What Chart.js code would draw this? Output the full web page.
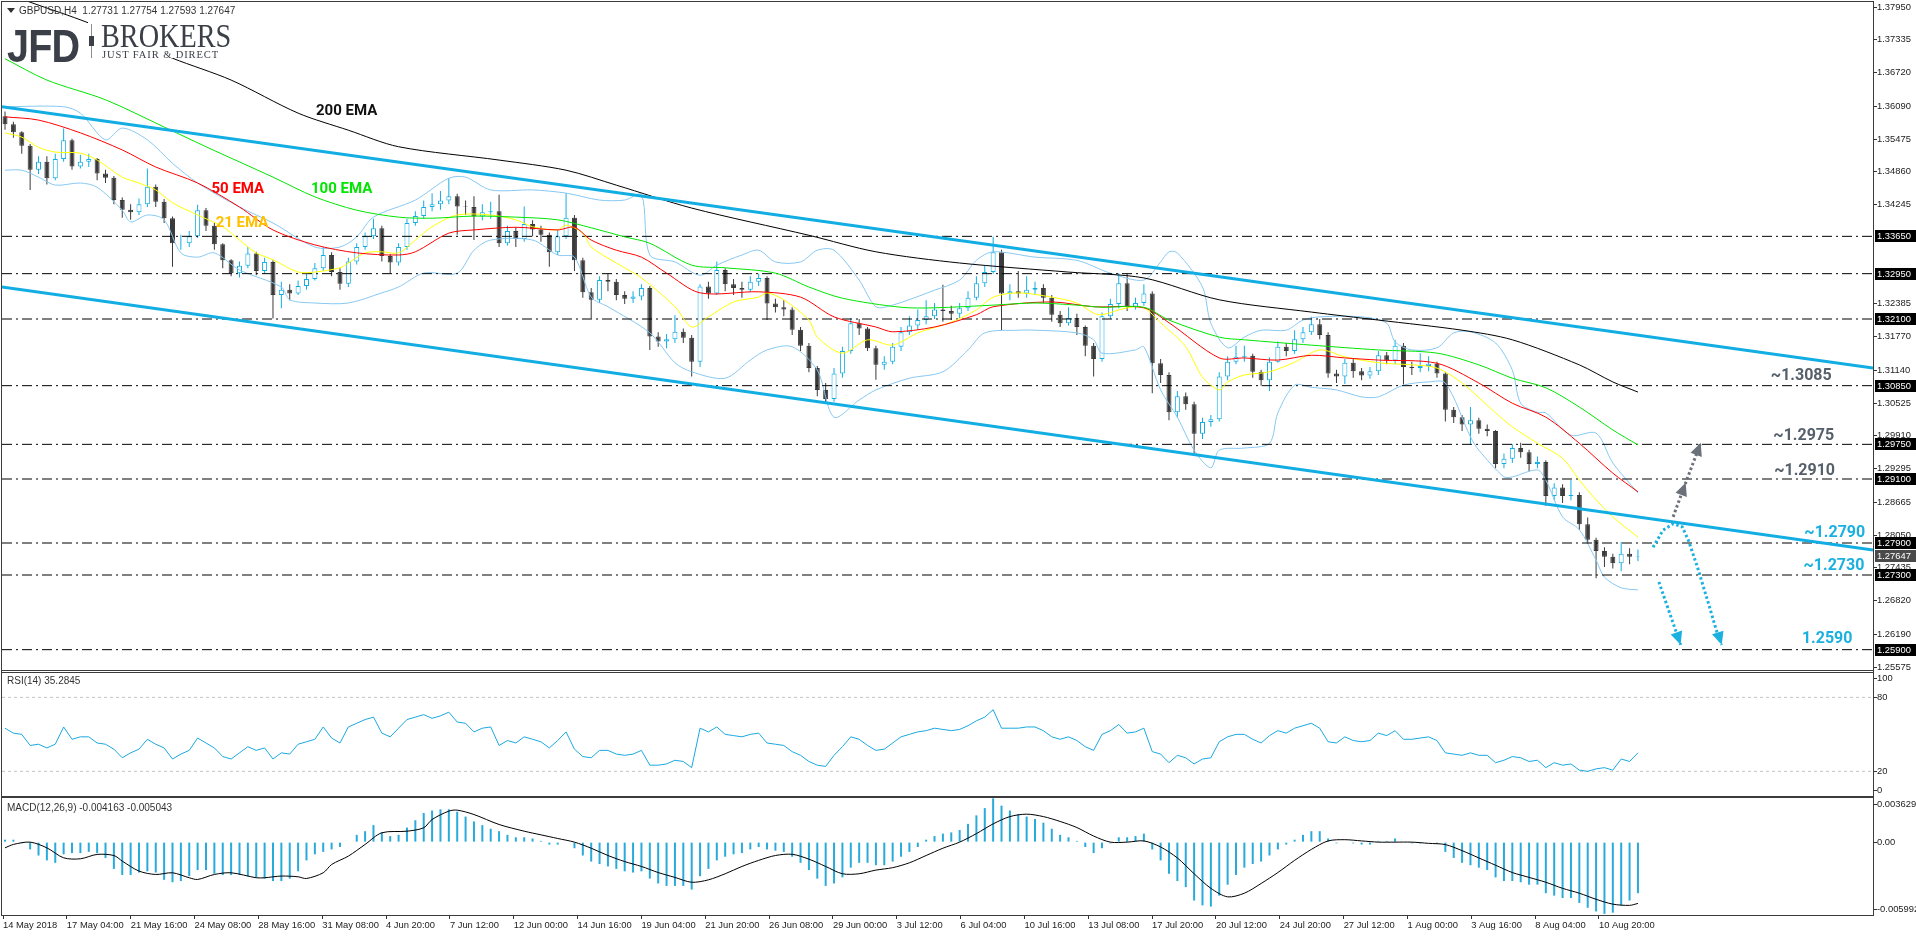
<!DOCTYPE html>
<html>
<head>
<meta charset="utf-8">
<script src="https://cdn.jsdelivr.net/npm/chart.js@4.4.1/dist/chart.umd.min.js"></script>
<style>
html, body { margin: 0; padding: 0; background: #fff; }
body { width: 1916px; height: 936px; position: relative; overflow: hidden; font-family: 'Liberation Sans', sans-serif; }
canvas { position: absolute; left: 0; top: 0; }
.t { position: absolute; white-space: nowrap; color: #333; font-size: 10px; line-height: 12px; }
.logo { position: absolute; white-space: nowrap; color: #3b4048; line-height: 1; transform-origin: left top; }
</style>
</head>
<body>
<canvas id="price" width="1916" height="936"></canvas>
<canvas id="rsi" width="1916" height="936"></canvas>
<canvas id="macd" width="1916" height="936"></canvas>

<div class="t" style="left:7px;top:5px"><span style="display:inline-block;width:0;height:0;border-left:4px solid transparent;border-right:4px solid transparent;border-top:5px solid #333;margin-right:4px;vertical-align:1px"></span>GBPUSD,H4&nbsp; 1.27731 1.27754 1.27593 1.27647</div>
<div style="position:absolute;left:88px;top:18px;width:150px;height:40px;background:#fff"></div>
<div class="logo" style="left:7px;top:19px;font:bold 46px 'Liberation Sans';transform:scaleX(0.86);letter-spacing:-1px">JFD</div>
<div style="position:absolute;left:91px;top:24px;width:1px;height:34px;background:#8a8f96"></div>
<div style="position:absolute;left:89px;top:36px;width:5px;height:10px;background:#3b4048"></div>
<div class="logo" style="left:101px;top:17px;font:34px 'Liberation Serif';transform:scaleX(0.83)">BROKERS</div>
<div class="logo" style="left:102px;top:49px;font:10.5px 'Liberation Serif';letter-spacing:0.9px">JUST FAIR &amp; DIRECT</div>
<div class="t" style="left:7px;top:675px">RSI(14) 35.2845</div>
<div class="t" style="left:7px;top:802px">MACD(12,26,9) -0.004163 -0.005043</div>

<script>
// ---- data (8h candles, GBPUSD) ----
const OPEN0 = 1.3590;
const closes = [
  1.3575,1.3560,1.3535,1.3490,1.3505,1.3474,1.3510,1.3545,1.3496,1.3505,
  1.3510,1.3483,1.3475,1.3433,1.3415,1.3410,1.3425,1.3458,1.3430,1.3399,
  1.3352,1.3352,1.3365,1.3414,1.3385,1.3350,1.3320,1.3296,1.3310,1.3333,
  1.3300,1.3317,1.3255,1.3265,1.3258,1.3272,1.3285,1.3305,1.3330,1.3298,
  1.3276,1.3318,1.3345,1.3365,1.3380,1.3328,1.3316,1.3345,1.3390,1.3403,
  1.3420,1.3425,1.3432,1.3440,1.3421,1.3420,1.3402,1.3410,1.3412,1.3352,
  1.3375,1.3360,1.3388,1.3378,1.3368,1.3335,1.3365,1.3400,1.3320,1.3260,
  1.3246,1.3283,1.3280,1.3255,1.3248,1.3252,1.3268,1.3177,1.3168,1.3172,
  1.3186,1.3175,1.3130,1.3271,1.3258,1.3302,1.3275,1.3268,1.3265,1.3280,
  1.3287,1.3239,1.3232,1.3228,1.3190,1.3160,1.3118,1.3077,1.3060,1.3108,
  1.3150,1.3202,1.3192,1.3155,1.3124,1.3130,1.3158,1.3185,1.3198,1.3208,
  1.3215,1.3228,1.3225,1.3220,1.3230,1.3250,1.3277,1.3298,1.3335,1.3258,
  1.3262,1.3258,1.3265,1.3268,1.3250,1.3218,1.3202,1.3212,1.3195,1.3160,
  1.3135,1.3215,1.3238,1.3277,1.3233,1.3240,1.3258,1.3127,1.3105,1.3035,
  1.3065,1.3050,1.2995,1.3017,1.3022,1.3102,1.3130,1.3139,1.3141,1.3111,
  1.3095,1.3130,1.3158,1.3150,1.3172,1.3185,1.3200,1.3180,1.3108,1.3102,
  1.3128,1.3112,1.3104,1.3112,1.3142,1.3132,1.3160,1.3120,1.3118,1.3122,
  1.3126,1.3108,1.3040,1.3026,1.3012,1.3020,1.3004,1.3000,1.2938,1.2948,
  1.2968,1.2960,1.2938,1.2942,1.2878,1.2894,1.2878,1.2880,1.2825,1.2796,
  1.2775,1.2764,1.2752,1.2770,1.2764,1.2765
];
const highs = [
  1.3599,1.3580,1.3562,1.3538,1.3515,1.3515,1.3520,1.3567,1.3548,1.3518,
  1.3520,1.3512,1.3490,1.3478,1.3438,1.3425,1.3436,1.3492,1.3462,1.3435,
  1.3402,1.3368,1.3375,1.3424,1.3418,1.3390,1.3352,1.3322,1.3318,1.3345,
  1.3336,1.3325,1.3320,1.3280,1.3275,1.3282,1.3295,1.3315,1.3345,1.3335,
  1.3305,1.3325,1.3352,1.3372,1.3398,1.3385,1.3332,1.3352,1.3398,1.3412,
  1.3432,1.3446,1.3450,1.3474,1.3445,1.3432,1.3440,1.3425,1.3430,1.3443,
  1.3385,1.3382,1.3421,1.3395,1.3385,1.3372,1.3378,1.3446,1.3405,1.3325,
  1.3268,1.3290,1.3295,1.3285,1.3262,1.3262,1.3275,1.3272,1.3185,1.3182,
  1.3217,1.3192,1.3180,1.3275,1.3280,1.3318,1.3305,1.3285,1.3280,1.3290,
  1.3295,1.3290,1.3248,1.3245,1.3232,1.3195,1.3165,1.3122,1.3090,1.3118,
  1.3158,1.3212,1.3210,1.3195,1.3160,1.3140,1.3165,1.3195,1.3215,1.3228,
  1.3245,1.3240,1.3274,1.3235,1.3240,1.3262,1.3290,1.3310,1.3364,1.3340,
  1.3275,1.3300,1.3290,1.3280,1.3275,1.3255,1.3225,1.3232,1.3220,1.3198,
  1.3165,1.3222,1.3248,1.3296,1.3296,1.3250,1.3275,1.3262,1.3135,1.3110,
  1.3075,1.3072,1.3055,1.3025,1.3030,1.3110,1.3140,1.3160,1.3160,1.3145,
  1.3115,1.3138,1.3168,1.3165,1.3189,1.3195,1.3214,1.3210,1.3185,1.3115,
  1.3135,1.3135,1.3118,1.3120,1.3150,1.3148,1.3171,1.3165,1.3130,1.3146,
  1.3140,1.3130,1.3110,1.3045,1.3030,1.3045,1.3025,1.3012,1.3002,1.2958,
  1.2975,1.2978,1.2965,1.2952,1.2945,1.2902,1.2900,1.2908,1.2885,1.2838,
  1.2800,1.2782,1.2770,1.2792,1.2780,1.2778
];
const lows = [
  1.3565,1.3550,1.3520,1.3452,1.3482,1.3462,1.3470,1.3505,1.3490,1.3492,
  1.3495,1.3470,1.3465,1.3425,1.3400,1.3396,1.3405,1.3420,1.3420,1.3390,
  1.3308,1.3340,1.3345,1.3362,1.3375,1.3340,1.3305,1.3290,1.3288,1.3305,
  1.3292,1.3295,1.3211,1.3230,1.3245,1.3255,1.3265,1.3282,1.3300,1.3290,
  1.3265,1.3270,1.3312,1.3340,1.3360,1.3318,1.3296,1.3310,1.3340,1.3385,
  1.3398,1.3412,1.3415,1.3425,1.3368,1.3405,1.3358,1.3395,1.3398,1.3345,
  1.3348,1.3345,1.3355,1.3365,1.3355,1.3308,1.3330,1.3360,1.3300,1.3250,
  1.3211,1.3240,1.3262,1.3245,1.3238,1.3240,1.3245,1.3152,1.3158,1.3155,
  1.3165,1.3165,1.3102,1.3120,1.3248,1.3255,1.3262,1.3255,1.3250,1.3260,
  1.3272,1.3208,1.3222,1.3215,1.3180,1.3150,1.3110,1.3065,1.3052,1.3055,
  1.3100,1.3145,1.3180,1.3150,1.3096,1.3115,1.3125,1.3150,1.3180,1.3190,
  1.3200,1.3210,1.3205,1.3208,1.3212,1.3225,1.3245,1.3270,1.3295,1.3189,
  1.3245,1.3250,1.3250,1.3255,1.3240,1.3205,1.3195,1.3198,1.3180,1.3140,
  1.3102,1.3130,1.3210,1.3230,1.3225,1.3228,1.3235,1.3071,1.3090,1.3020,
  1.3025,1.3040,1.2958,1.2985,1.3008,1.3018,1.3095,1.3125,1.3130,1.3100,
  1.3085,1.3075,1.3128,1.3140,1.3145,1.3165,1.3180,1.3172,1.3100,1.3090,
  1.3088,1.3100,1.3095,1.3098,1.3105,1.3125,1.3125,1.3087,1.3105,1.3110,
  1.3112,1.3100,1.3018,1.3015,1.3000,1.2975,1.2995,1.2990,1.2930,1.2930,
  1.2940,1.2950,1.2924,1.2930,1.2860,1.2870,1.2865,1.2870,1.2815,1.2788,
  1.2724,1.2745,1.2742,1.2737,1.2750,1.2756
];

// moving averages and bands: [candle index, price]
const ema200 = [[0,1.3821],[3,1.3804],[10,1.3765],[20,1.3699],[27,1.3658],[35,1.3596],[41,1.3564],[47,1.3533],[59,1.3508],[67,1.3489],[73,1.3461],[82,1.3418],[96,1.3367],[104,1.3336],[114,1.3315],[127,1.3298],[136,1.3287],[145,1.3246],[156,1.3223],[164,1.3208],[174,1.3189],[180,1.3171],[188,1.3124],[192,1.3092],[195,1.3073]];
const ema100 = [[0,1.3698],[5,1.3658],[12,1.3621],[19,1.3570],[24,1.3533],[32,1.3476],[37,1.3439],[42,1.3414],[47,1.3401],[51,1.3399],[56,1.3403],[61,1.3401],[66,1.3396],[70,1.3381],[74,1.3364],[77,1.3352],[82,1.3311],[86,1.3306],[92,1.3296],[96,1.3270],[100,1.3249],[107,1.3232],[111,1.3231],[118,1.3236],[123,1.3240],[128,1.3236],[131,1.3232],[136,1.3232],[139,1.3208],[145,1.3176],[148,1.3171],[156,1.3161],[164,1.3152],[171,1.3146],[176,1.3124],[180,1.3099],[184,1.3081],[188,1.3045],[192,1.3002],[195,1.2974]];
const ema50 = [[0,1.3589],[4,1.3583],[9,1.3559],[14,1.3527],[18,1.3495],[23,1.3465],[28,1.3420],[32,1.3377],[37,1.3349],[42,1.3334],[47,1.3330],[49,1.3336],[53,1.3371],[56,1.3377],[61,1.3382],[66,1.3377],[68,1.3382],[70,1.3358],[73,1.3339],[76,1.3326],[79,1.3296],[83,1.3259],[90,1.3261],[95,1.3251],[99,1.3214],[104,1.3195],[106,1.3186],[111,1.3195],[116,1.3218],[118,1.3233],[125,1.3242],[130,1.3233],[136,1.3231],[139,1.3203],[145,1.3137],[148,1.3137],[152,1.3133],[156,1.3142],[160,1.3137],[164,1.3133],[171,1.3127],[176,1.3090],[180,1.3052],[184,1.3026],[188,1.2977],[192,1.2921],[195,1.2886]];
const ema21 = [[0,1.3559],[2,1.3551],[4,1.3532],[6,1.3523],[9,1.3521],[11,1.3508],[14,1.3476],[16,1.3465],[18,1.3452],[20,1.3428],[23,1.3405],[26,1.3383],[28,1.3358],[30,1.3334],[32,1.3321],[35,1.3298],[37,1.3298],[40,1.3306],[41,1.3315],[43,1.3334],[45,1.3336],[47,1.3334],[49,1.3358],[51,1.3383],[54,1.3405],[58,1.3405],[61,1.3396],[63,1.3383],[66,1.3377],[67,1.3386],[69,1.3371],[70,1.3345],[73,1.3315],[76,1.3287],[80,1.3233],[82,1.3195],[84,1.3214],[87,1.3242],[90,1.3251],[91,1.3259],[93,1.3246],[96,1.3208],[97,1.3176],[100,1.3146],[103,1.3171],[106,1.3161],[109,1.3184],[113,1.3204],[116,1.3227],[118,1.3251],[121,1.3259],[125,1.3251],[128,1.3240],[130,1.3221],[131,1.3218],[134,1.3231],[136,1.3231],[138,1.3203],[141,1.3158],[143,1.3101],[145,1.3077],[146,1.3092],[148,1.3105],[151,1.3111],[154,1.3129],[157,1.3152],[160,1.3139],[164,1.3128],[168,1.3124],[171,1.3118],[174,1.3090],[178,1.3034],[180,1.3008],[183,1.2977],[186,1.2949],[188,1.2908],[190,1.2871],[192,1.2839],[195,1.2801]];
const bbUpper = [[0,1.3608],[7,1.3608],[9,1.3596],[12,1.3546],[14,1.3568],[17,1.3546],[20,1.3502],[23,1.3465],[28,1.3420],[32,1.3390],[37,1.3345],[40,1.3345],[42,1.3364],[44,1.3401],[49,1.3433],[53,1.3474],[55,1.3476],[58,1.3452],[63,1.3452],[67,1.3446],[71,1.3433],[74,1.3433],[76,1.3443],[77,1.3330],[80,1.3317],[83,1.3292],[85,1.3311],[88,1.3330],[90,1.3339],[92,1.3317],[95,1.3317],[97,1.3339],[99,1.3339],[102,1.3283],[104,1.3233],[106,1.3236],[111,1.3264],[114,1.3283],[116,1.3320],[118,1.3336],[123,1.3326],[128,1.3320],[132,1.3296],[136,1.3283],[138,1.3317],[139,1.3336],[140,1.3334],[143,1.3270],[144,1.3202],[146,1.3156],[148,1.3176],[150,1.3189],[153,1.3189],[155,1.3208],[157,1.3214],[162,1.3214],[165,1.3202],[166,1.3167],[168,1.3152],[171,1.3156],[173,1.3184],[175,1.3186],[178,1.3165],[180,1.3114],[181,1.3052],[183,1.3035],[184,1.3034],[187,1.2992],[190,1.2996],[192,1.2940],[195,1.2884]];
const bbLower = [[0,1.3489],[2,1.3489],[4,1.3476],[6,1.3461],[9,1.3465],[11,1.3457],[14,1.3414],[15,1.3392],[17,1.3405],[19,1.3396],[21,1.3334],[23,1.3326],[25,1.3334],[28,1.3302],[33,1.3270],[34,1.3246],[37,1.3240],[41,1.3240],[45,1.3259],[47,1.3270],[50,1.3296],[54,1.3296],[56,1.3339],[58,1.3358],[63,1.3358],[66,1.3330],[68,1.3326],[70,1.3251],[72,1.3233],[77,1.3184],[80,1.3128],[82,1.3111],[86,1.3099],[89,1.3133],[91,1.3152],[94,1.3158],[97,1.3114],[99,1.3026],[102,1.3058],[104,1.3077],[108,1.3099],[112,1.3111],[115,1.3152],[117,1.3184],[121,1.3189],[123,1.3189],[128,1.3184],[130,1.3171],[131,1.3146],[135,1.3152],[136,1.3158],[138,1.3077],[140,1.3026],[142,1.2964],[144,1.2931],[145,1.2964],[148,1.2968],[151,1.2977],[152,1.3034],[154,1.3086],[156,1.3082],[159,1.3077],[162,1.3064],[164,1.3064],[167,1.3086],[170,1.3092],[172,1.3090],[175,1.2989],[176,1.2964],[179,1.2914],[180,1.2914],[183,1.2927],[184,1.2908],[186,1.2839],[188,1.2815],[190,1.2758],[191,1.2726],[193,1.2706],[195,1.2702]];

const rsi = [
  55,51,50,41,42,39,42,56,46,48, 48,43,42,38,31,35,38,46,42,39,
  30,34,37,47,43,39,32,30,35,40, 37,39,30,35,34,42,44,46,56,47,
  43,56,59,62,64,51,48,55,62,64, 66,63,65,68,60,59,52,55,56,41,
  45,43,48,46,44,39,45,52,38,32, 31,37,37,34,33,34,37,25,25,26,
  29,28,23,55,52,56,50,49,48,50, 51,43,42,41,36,33,28,25,24,33,
  40,48,46,41,37,38,43,48,50,52, 53,55,54,53,54,57,61,64,70,55,
  55,55,56,56,53,48,46,48,45,40, 37,50,53,58,51,52,55,36,34,27,
  33,31,26,30,31,44,48,50,50,46, 43,49,53,51,55,57,59,55,44,43,
  48,45,44,45,51,49,53,46,46,47, 48,45,35,34,33,35,33,33,27,29,
  32,31,28,29,23,27,25,26,21,20, 22,23,21,30,28,35
];
const macdHist = [
  0.0002,0.0002,-0.0001,-0.0006,-0.0011,-0.0015,-0.0017,-0.0010,-0.0009,-0.0009,
  -0.0008,-0.0009,-0.0013,-0.0022,-0.0027,-0.0027,-0.0025,-0.0024,-0.0025,-0.0031,
  -0.0033,-0.0032,-0.0028,-0.0023,-0.0023,-0.0026,-0.0027,-0.0027,-0.0027,-0.0028,
  -0.0029,-0.0030,-0.0032,-0.0032,-0.0030,-0.0024,-0.0015,-0.0010,-0.0008,-0.0006,
  -0.0004,0.0000,0.0006,0.0009,0.0014,0.0008,0.0005,0.0006,0.0012,0.0018,
  0.0024,0.0026,0.0027,0.0027,0.0025,0.0021,0.0017,0.0014,0.0011,0.0009,
  0.0006,0.0004,0.0004,0.0003,0.0001,-0.0002,-0.0002,0.0000,-0.0005,-0.0011,
  -0.0016,-0.0018,-0.0020,-0.0022,-0.0024,-0.0025,-0.0024,-0.0030,-0.0034,-0.0036,
  -0.0036,-0.0036,-0.0039,-0.0028,-0.0022,-0.0015,-0.0012,-0.0010,-0.0009,-0.0006,
  -0.0004,-0.0006,-0.0007,-0.0008,-0.0012,-0.0017,-0.0023,-0.0030,-0.0036,-0.0034,
  -0.0029,-0.0021,-0.0017,-0.0017,-0.0019,-0.0019,-0.0016,-0.0012,-0.0008,-0.0004,
  0.0002,0.0005,0.0007,0.0008,0.0010,0.0015,0.0022,0.0028,0.0036,0.0030,
  0.0026,0.0023,0.0021,0.0019,0.0016,0.0011,0.0006,0.0004,0.0001,-0.0004,
  -0.0009,-0.0005,-0.0001,0.0004,0.0004,0.0005,0.0007,-0.0006,-0.0015,-0.0026,
  -0.0032,-0.0037,-0.0048,-0.0052,-0.0053,-0.0044,-0.0035,-0.0027,-0.0021,-0.0018,
  -0.0016,-0.0011,-0.0006,-0.0002,0.0002,0.0006,0.0009,0.0009,0.0003,-0.0001,
  0.0000,-0.0001,-0.0002,-0.0002,0.0001,0.0001,0.0003,0.0000,-0.0001,-0.0001,
  0.0000,-0.0001,-0.0008,-0.0013,-0.0017,-0.0019,-0.0021,-0.0023,-0.0029,-0.0032,
  -0.0032,-0.0033,-0.0035,-0.0035,-0.0042,-0.0044,-0.0046,-0.0046,-0.0050,-0.0054,
  -0.0057,-0.0059,-0.0058,-0.0052,-0.0048,-0.0042
];
const macdSignal = [[0,-0.00047],[1,-0.00019],[3,0],[5,-0.00047],[7,-0.00129],[9,-0.00137],[11,-0.00101],[13,-0.0011],[14,-0.00156],[16,-0.00238],[18,-0.00266],[20,-0.00252],[22,-0.00293],[23,-0.00307],[25,-0.00266],[27,-0.00252],[30,-0.00293],[31,-0.00293],[33,-0.00279],[35,-0.00285],[36,-0.00299],[38,-0.00252],[39,-0.00184],[41,-0.00115],[43,-0.00019],[45,0.00077],[48,0.0009],[50,0.00118],[51,0.00186],[53,0.00255],[54,0.00263],[56,0.00227],[59,0.00145],[62,0.0009],[64,0.0006],[66,0.0003],[68,0],[70,-0.0005],[72,-0.0011],[74,-0.0016],[76,-0.002],[78,-0.0025],[80,-0.0029],[82,-0.0033],[84,-0.0031],[86,-0.0026],[88,-0.002],[90,-0.0015],[92,-0.0011],[94,-0.001],[96,-0.0014],[98,-0.002],[100,-0.0026],[102,-0.0026],[104,-0.0023],[106,-0.0021],[108,-0.0017],[110,-0.0011],[112,-0.0005],[114,0],[116,0.0007],[118,0.0015],[120,0.0021],[122,0.0023],[124,0.0021],[126,0.0017],[128,0.0012],[130,0.0005],[132,0],[134,0],[136,0.0001],[138,-0.0004],[140,-0.0013],[142,-0.0026],[144,-0.0038],[146,-0.0045],[148,-0.0042],[150,-0.0034],[152,-0.0025],[154,-0.0015],[156,-0.0006],[158,0.0001],[160,0.0002],[162,0.0001],[164,0],[166,0],[168,0],[170,-0.0001],[172,-0.0002],[174,-0.0007],[176,-0.0013],[178,-0.0019],[180,-0.0025],[182,-0.0029],[184,-0.0033],[186,-0.0038],[188,-0.0042],[190,-0.0047],[192,-0.0051],[194,-0.0052],[195,-0.00504]];

const levels = [1.3365, 1.3295, 1.3210, 1.3085, 1.2975, 1.2910, 1.2790, 1.2730, 1.2590];
const LAST_PRICE = 1.27647;
const channelUpper = [1.3608, 1.3118];   // price at left / right edge
const channelLower = [1.3270, 1.2777];
const priceTicks = [1.37950,1.37335,1.36720,1.36090,1.35475,1.34860,1.34245,1.32385,1.31770,1.31140,1.30525,1.29910,1.29295,1.28665,1.28050,1.27435,1.26820,1.26190,1.25575];
const rsiTicks = [100, 80, 20, 0];
const macdTicks = [0.003629, 0, -0.005992];
const xLabels = ['14 May 2018','17 May 04:00','21 May 16:00','24 May 08:00','28 May 16:00','31 May 08:00','4 Jun 20:00','7 Jun 12:00','12 Jun 00:00','14 Jun 16:00','19 Jun 04:00','21 Jun 20:00','26 Jun 08:00','29 Jun 00:00','3 Jul 12:00','6 Jul 04:00','10 Jul 16:00','13 Jul 08:00','17 Jul 20:00','20 Jul 12:00','24 Jul 20:00','27 Jul 12:00','1 Aug 00:00','3 Aug 16:00','8 Aug 04:00','10 Aug 20:00'];

const emaNotes = [
  {text:'200 EMA', x:40.8, y:1.3600, color:'#111111'},
  {text:'50 EMA', x:27.8, y:1.3454, color:'#ff0000'},
  {text:'100 EMA', x:40.2, y:1.3453, color:'#00e600'},
  {text:'21 EMA', x:28.3, y:1.3390, color:'#ffc000'}
];
const levelNotes = [
  {text:'~1.3085', x:214.5, y:1.3103, color:'#56606b'},
  {text:'~1.2975', x:214.8, y:1.2991, color:'#56606b'},
  {text:'~1.2910', x:214.9, y:1.2925, color:'#56606b'},
  {text:'~1.2790', x:218.5, y:1.2809, color:'#1ab0e0'},
  {text:'~1.2730', x:218.4, y:1.2747, color:'#1ab0e0'},
  {text:'1.2590', x:217.6, y:1.2610, color:'#1ab0e0'}
];
// scenario arrows in [index, price]
const upArrow = [[199.2,1.2839],[200.7,1.2903],[202.5,1.2978]];
const arcArrow = [[196.8,1.2782],[198.0,1.2814],[199.2,1.2826],[200.3,1.2820],[201.0,1.2796],[202.1,1.2745],[203.3,1.2683],[204.6,1.2614],[205.0,1.2599]];
const downArrow = [[197.5,1.2717],[200.1,1.2599]];

// ---- layout ----
const X_MIN = -0.36, X_MAX = 223.07;
const X_LABEL_START = -0.24, X_LABEL_STEP = 7.6235;
const P_MIN = 1.254813, P_MAX = 1.380438;
const CYAN = '#12ade3', DARK = '#3a3a3a';
const AXIS_FONT = {family: 'Liberation Sans', size: 9.4};
Chart.defaults.font.family = 'Liberation Sans';

const opens = closes.map((c, i) => i === 0 ? OPEN0 : closes[i - 1]);
const up = closes.map((c, i) => c >= opens[i]);
const pts = arr => arr.map(p => ({x: p[0], y: p[1]}));

function line(data, color, width, order, extra) {
  return Object.assign({type: 'line', data: data, borderColor: color, borderWidth: width, pointRadius: 0, tension: 0.3, order: order}, extra || {});
}
function rightAxis(min, max, opts) {
  return Object.assign({
    position: 'right', min: min, max: max,
    afterFit: s => { s.width = 43; s.paddingTop = 0; s.paddingBottom = 0; },
    grid: {drawOnChartArea: false, drawTicks: true, tickLength: 4, color: '#333'},
    border: {display: false},
    ticks: {font: AXIS_FONT, color: '#222', padding: 0, autoSkip: false}
  }, opts);
}
// edge ticks of sub panels sit a few pixels inside the panel
function panelTicks(values, panelPx, labelFn) {
  return {
    afterBuildTicks: s => {
      const perPx = (s.max - s.min) / panelPx;
      s.ticks = values.map((v, k) => ({value: k === 0 ? v - 6 * perPx : (k === values.length - 1 ? v + 6 * perPx : v)}));
    },
    ticks: {font: AXIS_FONT, color: '#222', padding: 0, autoSkip: false, callback: (v, k) => labelFn(values[k])}
  };
}
const hiddenX = {type: 'linear', min: X_MIN, max: X_MAX, display: false, offset: false};

const framePlugin = {
  id: 'frame',
  afterDraw(chart) {
    const a = chart.chartArea, ctx = chart.ctx;
    ctx.save();
    ctx.strokeStyle = '#3c3c3c'; ctx.lineWidth = 1;
    ctx.strokeRect(a.left - 0.5, a.top - 0.5, a.right - a.left + 1, a.bottom - a.top + 1);
    ctx.restore();
  }
};

function dotted(ctx, p, color) {
  ctx.save();
  ctx.strokeStyle = color; ctx.lineWidth = 3; ctx.setLineDash([2.5, 2.5]);
  ctx.beginPath();
  p.forEach((q, i) => i ? ctx.lineTo(q[0], q[1]) : ctx.moveTo(q[0], q[1]));
  ctx.stroke();
  ctx.restore();
}
function head(ctx, from, to, color) {
  const a = Math.atan2(to[1] - from[1], to[0] - from[0]), L = 13, W = 6;
  ctx.save();
  ctx.fillStyle = color;
  ctx.beginPath();
  ctx.moveTo(to[0], to[1]);
  ctx.lineTo(to[0] - L * Math.cos(a) + W * Math.sin(a), to[1] - L * Math.sin(a) - W * Math.cos(a));
  ctx.lineTo(to[0] - L * Math.cos(a) - W * Math.sin(a), to[1] - L * Math.sin(a) + W * Math.cos(a));
  ctx.closePath();
  ctx.fill();
  ctx.restore();
}

const notesPlugin = {
  id: 'notes',
  afterDraw(chart) {
    const ctx = chart.ctx, xs = chart.scales.x, ys = chart.scales.y, a = chart.chartArea;
    const P = q => [xs.getPixelForValue(q[0]), ys.getPixelForValue(q[1])];
    ctx.save();
    ctx.textAlign = 'center'; ctx.textBaseline = 'middle';
    ctx.font = 'bold 15px Roboto';
    emaNotes.forEach(n => { ctx.fillStyle = n.color; ctx.fillText(n.text, xs.getPixelForValue(n.x), ys.getPixelForValue(n.y)); });
    ctx.font = 'bold 16px Roboto';
    levelNotes.forEach(n => { ctx.fillStyle = n.color; ctx.fillText(n.text, xs.getPixelForValue(n.x), ys.getPixelForValue(n.y)); });
    ctx.restore();

    const g = '#6b7079', c = '#1ab0e0';
    const u = upArrow.map(P);
    dotted(ctx, u, g); head(ctx, u[0], u[1], g); head(ctx, u[1], u[2], g);
    const ar = arcArrow.map(P);
    dotted(ctx, ar, c); head(ctx, ar[ar.length - 3], ar[ar.length - 1], c);
    const d = downArrow.map(P);
    dotted(ctx, d, c); head(ctx, d[0], d[1], c);

    // price boxes on the axis
    ctx.save();
    ctx.font = '9.4px Liberation Sans'; ctx.textBaseline = 'middle'; ctx.textAlign = 'left';
    const box = (v, bg) => {
      const y = Math.round(ys.getPixelForValue(v));
      ctx.fillStyle = bg; ctx.fillRect(a.right + 2, y - 6, 41, 12);
      ctx.fillStyle = '#fff'; ctx.fillText(v.toFixed(5), a.right + 4, y + 0.5);
    };
    levels.forEach(v => box(v, '#000'));
    box(LAST_PRICE, '#4a4a4a');
    ctx.restore();
  }
};

// ---- price panel ----
const idx = closes.map((c, i) => i);
new Chart(document.getElementById('price'), {
  type: 'bar',
  data: {
    datasets: [
      line([{x: X_MIN, y: channelUpper[0]}, {x: X_MAX, y: channelUpper[1]}], CYAN, 3, 0, {tension: 0}),
      line([{x: X_MIN, y: channelLower[0]}, {x: X_MAX, y: channelLower[1]}], CYAN, 3, 0, {tension: 0}),
      line(pts(ema200), '#000000', 1, 1),
      line(pts(ema100), '#00e600', 1, 1),
      line(pts(ema50), '#ff0000', 1, 1),
      line(pts(ema21), '#ffff00', 1, 1),
      ...levels.map(l => line([{x: X_MIN, y: l}, {x: X_MAX, y: l}], '#000', 1, 2, {tension: 0, borderDash: [10, 4, 2, 4]})),
      line(pts(bbUpper), '#87c8f2', 1, 3),
      line(pts(bbLower), '#87c8f2', 1, 3),
      {
        type: 'bar', order: 4, grouped: false, barThickness: 5, inflateAmount: 0,
        data: idx.map(i => ({x: i, y: [opens[i], closes[i]]})),
        backgroundColor: up.map(u => u ? '#ffffff' : DARK),
        borderColor: up.map(u => u ? CYAN : DARK),
        borderWidth: 1, borderSkipped: false
      },
      {
        type: 'bar', order: 5, grouped: false, barThickness: 1, inflateAmount: 0,
        data: idx.map(i => ({x: i, y: [lows[i], highs[i]]})),
        backgroundColor: up.map(u => u ? CYAN : DARK)
      }
    ]
  },
  options: {
    responsive: false, animation: false, devicePixelRatio: 1, events: [],
    layout: {padding: {left: 2, top: 2, right: 0, bottom: 264}},
    plugins: {legend: {display: false}, tooltip: {enabled: false}},
    scales: {
      x: hiddenX,
      y: rightAxis(P_MIN, P_MAX, {
        afterBuildTicks: s => { s.ticks = priceTicks.map(v => ({value: v})); },
        ticks: {font: AXIS_FONT, color: '#222', padding: 0, autoSkip: false, callback: v => v.toFixed(5)}
      })
    }
  },
  plugins: [framePlugin, notesPlugin]
});

// ---- RSI panel ----
new Chart(document.getElementById('rsi'), {
  type: 'line',
  data: {
    datasets: [
      line(rsi.map((v, i) => ({x: i, y: v})), '#1aa8e0', 1, 0, {tension: 0}),
      line([{x: X_MIN, y: 80}, {x: X_MAX, y: 80}], '#c4c4c4', 1, 1, {tension: 0, borderDash: [3, 3]}),
      line([{x: X_MIN, y: 20}, {x: X_MAX, y: 20}], '#c4c4c4', 1, 1, {tension: 0, borderDash: [3, 3]})
    ]
  },
  options: {
    responsive: false, animation: false, devicePixelRatio: 1, events: [],
    layout: {padding: {left: 2, top: 671, right: 0, bottom: 140}},
    plugins: {legend: {display: false}, tooltip: {enabled: false}},
    scales: {
      x: hiddenX,
      y: rightAxis(0, 101.4, panelTicks(rsiTicks, 125, v => String(v)))
    }
  },
  plugins: [framePlugin]
});

// ---- MACD panel ----
new Chart(document.getElementById('macd'), {
  type: 'bar',
  data: {
    datasets: [
      line(pts(macdSignal), '#000000', 1, 0),
      {
        type: 'bar', order: 1, grouped: false, barThickness: 2, inflateAmount: 0,
        data: macdHist.map((v, i) => ({x: i, y: v})),
        backgroundColor: '#28aadb'
      }
    ]
  },
  options: {
    responsive: false, animation: false, devicePixelRatio: 1, events: [],
    layout: {padding: {left: 2, top: 798, right: 0, bottom: 0}},
    plugins: {legend: {display: false}, tooltip: {enabled: false}},
    scales: {
      x: {
        type: 'linear', min: X_MIN, max: X_MAX, offset: false,
        afterFit: s => { s.height = 21; s.paddingLeft = 0; s.paddingRight = 0; },
        afterBuildTicks: s => { s.ticks = xLabels.map((t, k) => ({value: X_LABEL_START + k * X_LABEL_STEP})); },
        grid: {drawOnChartArea: false, drawTicks: true, tickLength: 4, color: '#333', offset: false},
        border: {display: false},
        ticks: {font: AXIS_FONT, color: '#222', padding: 1, autoSkip: false, maxRotation: 0, align: 'start', callback: (v, k) => xLabels[k]}
      },
      y: rightAxis(-0.005992, 0.003629, panelTicks(macdTicks, 117, v => v === 0 ? '0.00' : v.toFixed(6)))
    }
  },
  plugins: [framePlugin]
});
</script>
</body>
</html>
